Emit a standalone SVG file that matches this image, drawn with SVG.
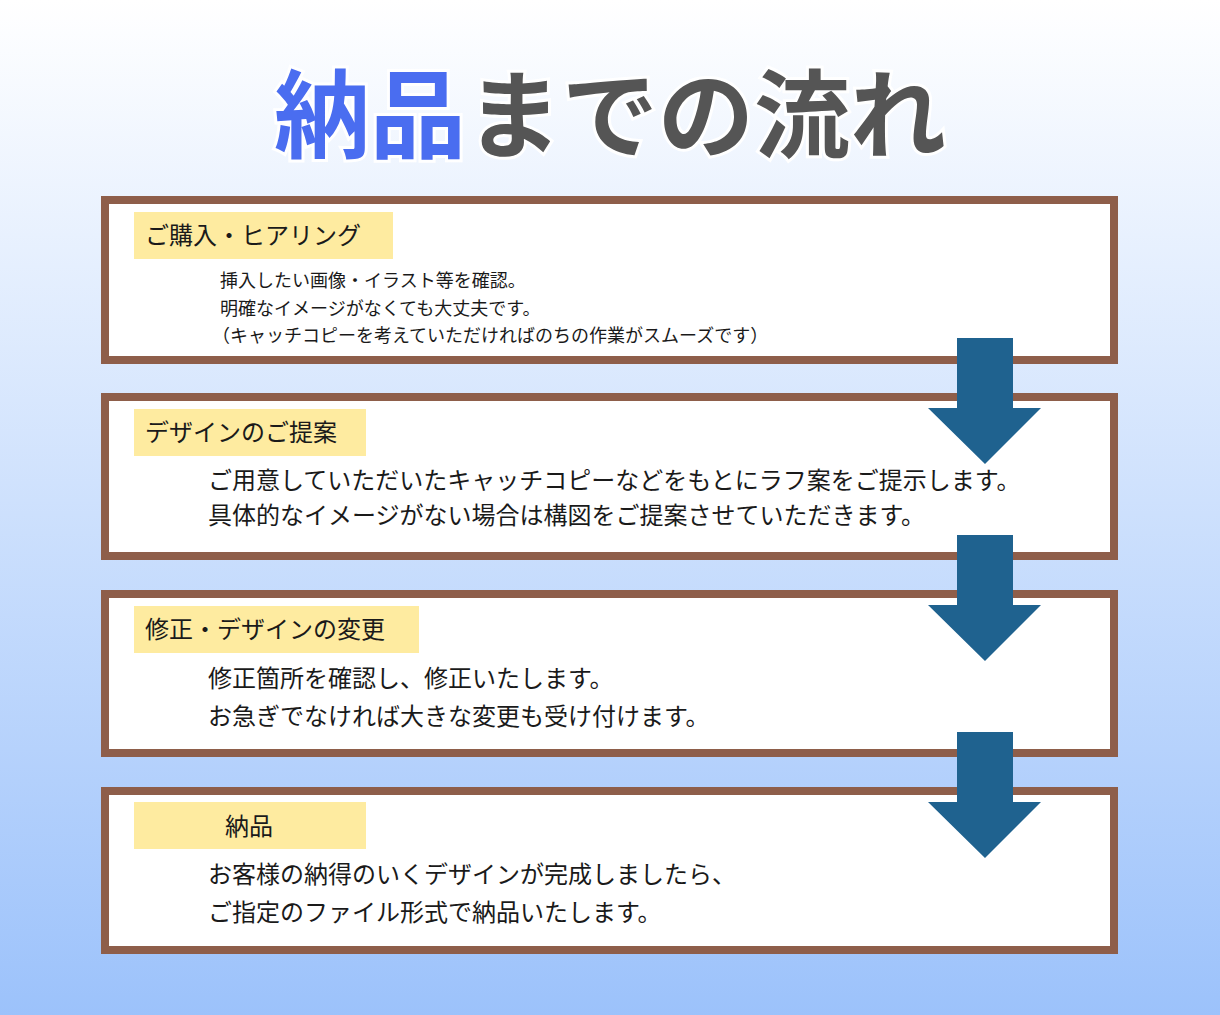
<svg xmlns="http://www.w3.org/2000/svg" width="1220" height="1015" viewBox="0 0 1220 1015">
<defs>
<linearGradient id="bg" x1="0" y1="0" x2="0" y2="1"><stop offset="0" stop-color="#ffffff"/><stop offset="1" stop-color="#9cc2fb"/></linearGradient>
<style>
text{font-family:"Noto Sans CJK JP","Noto Sans CJK SC",sans-serif;fill:#1a1a1a}
.box{fill:#fff;stroke:#8e5e4a;stroke-width:8}
.lab{fill:#feeba0}
.h{font-size:24px}
.s{font-size:18px}
.m{font-size:24px}
.t{font-size:96px;font-weight:bold;stroke:#fff;stroke-width:6;paint-order:stroke}
.arr{fill:#1f628f}
</style>
</defs>
<rect width="1220" height="1015" fill="url(#bg)"/>
<text class="t" x="610" y="150" text-anchor="middle"><tspan fill="#4a6df0">納品</tspan><tspan fill="#555">までの流れ</tspan></text>
<g id="n1"><rect class="box" x="105" y="200" width="1009" height="160"/><rect class="lab" x="134" y="212" width="259" height="47"/><text class="h" x="145" y="244">ご購入・ヒアリング</text>
<text class="s" x="220" y="287">挿入したい画像・イラスト等を確認。</text><text class="s" x="220" y="315">明確なイメージがなくても大丈夫です。</text><text class="s" x="212" y="342">（キャッチコピーを考えていただければのちの作業がスムーズです）</text></g>
<g id="n2"><rect class="box" x="105" y="397" width="1009" height="159"/><rect class="lab" x="134" y="409" width="232" height="47"/><text class="h" x="145" y="441">デザインのご提案</text>
<text class="m" x="208" y="489">ご用意していただいたキャッチコピーなどをもとにラフ案をご提示します。</text><text class="m" x="208" y="524">具体的なイメージがない場合は構図をご提案させていただきます。</text></g>
<g id="n3"><rect class="box" x="105" y="594" width="1009" height="159"/><rect class="lab" x="134" y="606" width="285" height="47"/><text class="h" x="145" y="638">修正・デザインの変更</text>
<text class="m" x="208" y="687">修正箇所を確認し、修正いたします。</text><text class="m" x="208" y="725">お急ぎでなければ大きな変更も受け付けます。</text></g>
<g id="n4"><rect class="box" x="105" y="791" width="1009" height="159"/><rect class="lab" x="134" y="802" width="232" height="47"/><text class="h" x="225" y="835">納品</text>
<text class="m" x="208" y="883">お客様の納得のいくデザインが完成しましたら、</text><text class="m" x="208" y="921">ご指定のファイル形式で納品いたします。</text></g>
<g id="connectors">
<polygon class="arr" points="957,338 1013,338 1013,408 1041,408 985,464 928,408 957,408"/>
<polygon class="arr" points="957,535 1013,535 1013,605 1041,605 985,661 928,605 957,605"/>
<polygon class="arr" points="957,732 1013,732 1013,802 1041,802 985,858 928,802 957,802"/>
</g>
</svg>
